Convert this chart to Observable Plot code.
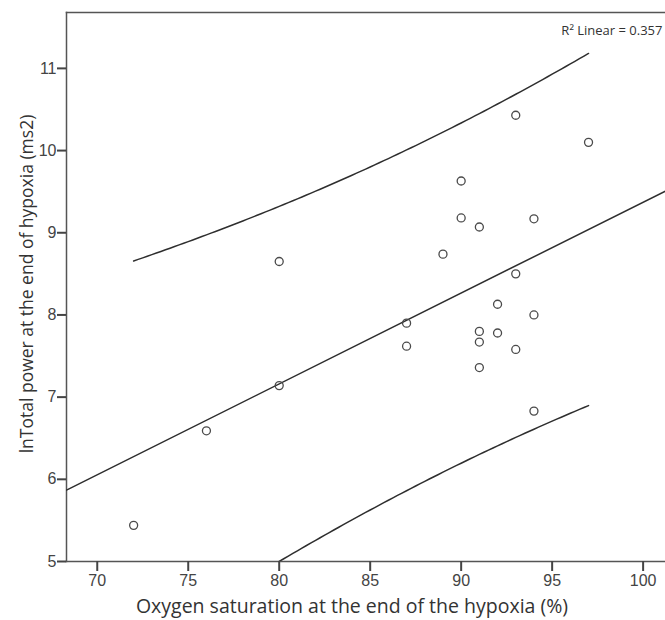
<!DOCTYPE html>
<html>
<head>
<meta charset="utf-8">
<script src="https://cdn.jsdelivr.net/npm/d3@7"></script>
<script src="https://cdn.jsdelivr.net/npm/@observablehq/plot@0.6"></script>
<style>
  html, body { margin: 0; padding: 0; background: #fff; }
  #chart svg { display: block; }
</style>
</head>
<body>
<div id="chart"></div>
<script>
// Oxygen saturation (%) at the end of hypoxia, one value per subject
const saturation = [93, 97, 90, 90, 91, 94, 89, 93, 92, 94, 87, 87, 91, 91, 92, 93, 91, 94, 80, 80, 76, 72];
// lnTotal power (ms2) at the end of hypoxia, same subjects
const lnTotalPower = [10.43, 10.10, 9.63, 9.18, 9.07, 9.17, 8.74, 8.50, 8.13, 8.00, 7.90, 7.62, 7.80, 7.67, 7.78, 7.58, 7.36, 6.83, 8.65, 7.14, 6.59, 5.44];

const xTicks = [70, 75, 80, 85, 90, 95, 100];
const yTicks = [5, 6, 7, 8, 9, 10, 11];
const r2Linear = 0.357;

const xDomain = [68.31, 101.23];
const yDomain = [5, 11.68];

const points = saturation.map((x, i) => ({x, y: lnTotalPower[i]}));

// Least-squares fit and 95% individual prediction interval
const n = points.length;
const mx = d3.mean(saturation), my = d3.mean(lnTotalPower);
const sxx = d3.sum(saturation, x => (x - mx) ** 2);
const sxy = d3.sum(points, p => (p.x - mx) * (p.y - my));
const slope = sxy / sxx;
const intercept = my - slope * mx;
const fit = x => intercept + slope * x;
const sse = d3.sum(points, p => (p.y - fit(p.x)) ** 2);
const s = Math.sqrt(sse / (n - 2));
const tCrit = 2.086; // t(0.975, df = 20)
const half = x => tCrit * s * Math.sqrt(1 + 1 / n + (x - mx) ** 2 / sxx);

const fitLine = xDomain.map(x => ({x, y: fit(x)}));
const [xMin, xMax] = d3.extent(saturation);
const grid = d3.range(xMin, xMax + 1e-9, 0.25);
const upper = grid.map(x => ({x, y: fit(x) + half(x)}));
const lower = grid.map(x => ({x, y: fit(x) - half(x)}));

const ink = "#444";
const lineInk = "#2e2e2e";

const chart = Plot.plot({
  width: 665,
  height: 620,
  marginLeft: 66,
  marginRight: 0,
  marginTop: 12,
  marginBottom: 59,
  style: {background: "#fff", fontFamily: "'Liberation Sans', Arial, sans-serif"},
  x: {domain: xDomain},
  y: {domain: yDomain},
  marks: [
    Plot.frame({anchor: "top", stroke: "#555", strokeWidth: 1.5}),
    Plot.frame({anchor: "left", stroke: "#555", strokeWidth: 1.5}),
    Plot.frame({anchor: "bottom", stroke: "#555", strokeWidth: 1.5}),
    Plot.axisX({ticks: xTicks, tickFormat: "d", tickSize: 10, tickPadding: 3, fontSize: 16, color: ink, strokeWidth: 2, label: null}),
    Plot.axisY({ticks: yTicks, tickFormat: "d", tickSize: 9, tickPadding: 1, fontSize: 16, color: ink, strokeWidth: 2, label: null}),
    Plot.line(upper, {x: "x", y: "y", stroke: lineInk, strokeWidth: 1.5, clip: true}),
    Plot.line(lower, {x: "x", y: "y", stroke: lineInk, strokeWidth: 1.5, clip: true}),
    Plot.line(fitLine, {x: "x", y: "y", stroke: lineInk, strokeWidth: 1.5, clip: true}),
    Plot.dot(points, {x: "x", y: "y", r: 4, stroke: "#4a4a4a", strokeWidth: 1.3, fill: "none"}),
    Plot.text([`R² Linear = ${r2Linear}`], {
      frameAnchor: "top-right", textAnchor: "end", lineAnchor: "middle",
      dx: -3, dy: 18, fontSize: 13, fill: "#333", fontFamily: "'Open Sans', sans-serif"
    }),
    Plot.text(["Oxygen saturation at the end of the hypoxia (%)"], {
      frameAnchor: "bottom", textAnchor: "middle", lineAnchor: "middle",
      dx: -14, dy: 45, fontSize: 19.5, fill: "#333", fontFamily: "'Open Sans', sans-serif"
    }),
    Plot.text(["lnTotal power at the end of hypoxia (ms2)"], {
      frameAnchor: "left", textAnchor: "middle", lineAnchor: "middle",
      rotate: -90, dx: -39, dy: -3, fontSize: 17.5, fill: "#333", fontFamily: "'Open Sans', sans-serif"
    })
  ]
});

document.getElementById("chart").append(chart);
</script>
</body>
</html>
